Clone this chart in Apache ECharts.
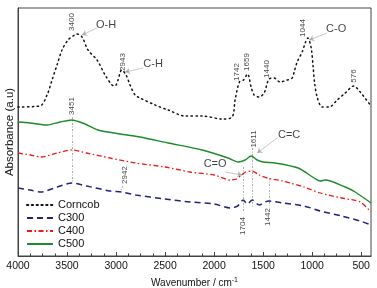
<!DOCTYPE html>
<html><head><meta charset="utf-8">
<script src="https://cdn.jsdelivr.net/npm/echarts@6/dist/echarts.min.js"></script>
<style>html,body{margin:0;padding:0;background:#fff}#c{width:377px;height:288px}</style>
</head><body><div id="c"></div>
<script>
// ---- data (wavenumber cm^-1, absorbance a.u. offset-stacked) ----
const seriesNames = ['Corncob', 'C300', 'C400', 'C500'];
const xTickLabels = [4000, 3500, 3000, 2500, 2000, 1500, 1000, 500];
const xMinorTicks = [3875, 3750, 3625, 3375, 3250, 3125, 2875, 2750, 2625, 2375, 2250, 2125,
  1875, 1750, 1625, 1375, 1250, 1125, 875, 750, 625];

const corncob = [[4000,149],[3776,150],[3704,161],[3653,176],[3602,191],[3551,206],[3490,216],[3439,220],
  [3400,222],[3347,219],[3286,206],[3194,196],[3112,181],[3041,171],[3010,170],[2980,176],[2943,186],
  [2898,181],[2857,171],[2806,161],[2755,158],[2602,151],[2469,146],[2296,140],[2122,140],[1918,137],
  [1816,139],[1786,156],[1742,174],[1700,176],[1659,182],[1620,168],[1592,161],[1541,159],[1490,163],
  [1440,177],[1388,178],[1327,174],[1255,176],[1204,178],[1184,184],[1153,194],[1102,204],[1071,213],
  [1044,218],[1010,208],[990,189],[975,173],[949,159],[898,149],[827,149],[745,156],[663,163],[576,170],
  [510,164],[400,150]];
const c300 = [[4000,68],[3878,66],[3765,64],[3600,69],[3451,73],[3300,70],[3061,65],[2942,64],[2800,61],
  [2500,57],[2245,54],[2000,52],[1837,48],[1760,50],[1704,56],[1660,52],[1611,56],[1540,51],[1480,54],
  [1442,55],[1300,53],[1082,50],[918,45],[700,40],[510,35],[400,31]];
const c400 = [[4000,103],[3878,101],[3765,99],[3600,103],[3451,106],[3300,103],[3061,98],[2800,93],
  [2500,89],[2245,84],[2000,81],[1837,76],[1770,77],[1720,81],[1680,84],[1611,85],[1540,81],[1459,78],
  [1300,75],[1082,69],[918,63],[700,58],[510,54],[400,44]];
const c500 = [[4000,134],[3878,133],[3704,131],[3571,134],[3451,136],[3316,132],[3184,126],[2959,122],
  [2755,119],[2469,113],[2122,106],[1857,98],[1755,94],[1684,96],[1622,100],[1561,96],[1500,94],
  [1378,93],[1143,88],[980,78],[918,75],[867,76],[663,69],[561,64],[400,53]];

// ---- annotations (data coordinates) ----
const peakLabels = [[3449,234,'3400'],[2929,194,'2943'],[1765,184,'1742'],[1663,194,'1659'],
  [1459,187,'1440'],[1092,228,'1044'],[571,180,'576'],[3449,150,'3451'],[2908,81,'2942'],
  [1592,117,'1611'],[1704,30,'1704'],[1449,39,'1442']];
const groupLabels = [[3102,231,'O-H'],[2622,192,'C-H'],[755,227,'C-O'],[1235,121,'C=C'],[1990,92,'C=O']];
const arrowLines = [[[3194,228],[3347,221]],[[2724,188],[2908,184]],[[847,223],[1031,216]],
  [[1357,118],[1561,103]],[[1888,84],[1714,81]]];
const guideLines = [[[3451,139],[3451,73]],[[1704,89],[1704,44]],[[1611,108],[1611,48]],
  [[1442,78],[1442,50]],[[2930,70],[2948,66]]];

const FONT = 'Liberation Sans, Arial, sans-serif';
const chart = echarts.init(document.getElementById('c'), null, {renderer: 'canvas'});

const lineBase = {type: 'line', symbol: 'none', smooth: 0.25, xAxisIndex: 0, yAxisIndex: 0, z: 3};

chart.setOption({
  animation: false,
  backgroundColor: '#fff',
  grid: {left: 18, right: 6, top: 8, bottom: 32, show: true, borderColor: '#444', borderWidth: 1,
    containLabel: false, outerBoundsMode: 'none'},
  legend: {
    data: seriesNames, orient: 'vertical', left: 21, top: 194,
    itemWidth: 26, itemHeight: 8, itemGap: 1,
    itemStyle: {opacity: 0},
    textStyle: {fontFamily: FONT, fontSize: 11, lineHeight: 12, color: '#111'}
  },
  xAxis: [{
    type: 'value', inverse: true, min: 400, max: 4000,
    name: 'Wavenumber / cm{sup|-1}', nameLocation: 'middle', nameGap: 19,
    nameTextStyle: {fontFamily: FONT, fontSize: 10, color: '#111',
      rich: {sup: {fontSize: 7, verticalAlign: 'top', padding: [0,0,6,0], fontFamily: FONT, color:'#111'}}},
    axisLine: {show: true, lineStyle: {color: '#444', width: 1}},
    axisTick: {show: true, inside: true, length: 4, customValues: xTickLabels, lineStyle: {color: '#444'}},
    axisLabel: {customValues: xTickLabels, formatter: v => String(v), fontFamily: FONT, fontSize: 10.5, color: '#111', margin: 5},
    splitLine: {show: false}
  }, {
    type: 'value', inverse: true, min: 400, max: 4000, position: 'bottom', offset: 0,
    axisLine: {show: false},
    axisTick: {show: true, inside: true, length: 2.5, customValues: xMinorTicks, lineStyle: {color: '#444'}},
    axisLabel: {show: false}, splitLine: {show: false}
  }],
  yAxis: {
    type: 'value', min: 0, max: 248,
    name: 'Absorbance (a.u)', nameLocation: 'middle', nameGap: 2,
    nameTextStyle: {fontFamily: FONT, fontSize: 11.5, color: '#111'},
    axisLine: {show: true, lineStyle: {color: '#444'}},
    axisTick: {show: false}, axisLabel: {show: false}, splitLine: {show: false}
  },
  series: [
    Object.assign({}, lineBase, {name: 'Corncob', data: corncob, smooth: 0.3,
      lineStyle: {color: '#111', width: 1.5, type: [1.3, 3.5], cap: 'round'}, itemStyle: {color: '#111'}}),
    Object.assign({}, lineBase, {name: 'C300', data: c300,
      lineStyle: {color: '#23237e', width: 1.5, type: [6, 4]}, itemStyle: {color: '#23237e'}}),
    Object.assign({}, lineBase, {name: 'C400', data: c400,
      lineStyle: {color: '#f01818', width: 1.3, type: [5, 2.5, 1.5, 2.5]}, itemStyle: {color: '#f01818'}}),
    Object.assign({}, lineBase, {name: 'C500', data: c500,
      lineStyle: {color: '#1e8a2a', width: 1.4}, itemStyle: {color: '#1e8a2a'}}),
    {
      type: 'lines', coordinateSystem: 'cartesian2d', z: 4, silent: true,
      data: guideLines.map(c => ({coords: c})),
      lineStyle: {color: '#333', width: 0.8, type: [2, 1.5, 1, 1.5]}
    },
    {
      type: 'lines', coordinateSystem: 'cartesian2d', z: 4, silent: true,
      symbol: ['none', 'arrow'], symbolSize: 5,
      data: arrowLines.map(c => ({coords: c})),
      lineStyle: {color: '#777', width: 0.8}
    },
    {
      type: 'scatter', symbolSize: 0, z: 5, silent: true,
      data: peakLabels.map(d => ({value: [d[0], d[1]], name: d[2]})),
      label: {show: true, position: 'inside', rotate: 90, formatter: p => p.name,
        fontFamily: FONT, fontSize: 8, color: '#111'}
    },
    {
      type: 'scatter', symbolSize: 0, z: 5, silent: true,
      data: groupLabels.map(d => ({value: [d[0], d[1]], name: d[2]})),
      label: {show: true, position: 'inside', formatter: p => p.name,
        fontFamily: FONT, fontSize: 11, color: '#111'}
    }
  ]
});
</script>
</body></html>
